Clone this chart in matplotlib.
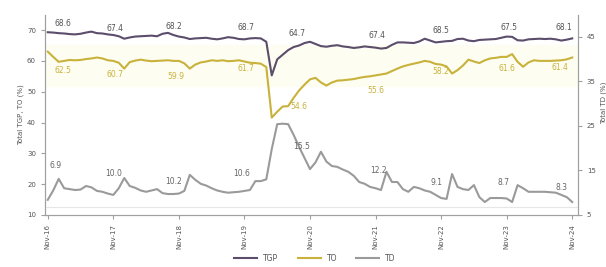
import numpy as np
import matplotlib.pyplot as plt

# monthly series, Nov-16 .. Nov-24
tgp = [69.3, 69.2, 69.0, 68.9, 68.7, 68.6, 68.8, 69.2, 69.5, 69.0, 68.9, 68.6,
       68.4, 68.0, 67.2, 67.6, 67.9, 68.0, 68.1, 68.2, 68.0, 68.8, 69.1, 68.4,
       67.9, 67.6, 67.1, 67.3, 67.4, 67.5, 67.2, 67.0, 67.3, 67.7, 67.5, 67.1,
       67.0, 67.3, 67.4, 67.3, 66.2, 55.3, 60.5, 62.0, 63.5, 64.5, 65.0, 65.8,
       66.2, 65.5, 64.8, 64.6, 64.9, 65.1, 64.7, 64.5, 64.2, 64.4, 64.7, 64.5,
       64.3, 64.0, 64.2, 65.2, 66.0, 66.0, 65.9, 65.8, 66.3, 67.2, 66.6, 66.0,
       66.2, 66.4, 66.5, 67.1, 67.2, 66.6, 66.4, 66.8, 66.9, 67.0, 67.1, 67.5,
       67.9, 67.8, 66.7, 66.6, 67.0, 67.1, 67.2, 67.1, 67.2, 67.0, 66.6, 66.9,
       67.3]
to = [63.0, 61.3, 59.7, 60.0, 60.3, 60.2, 60.3, 60.6, 60.8, 61.1, 60.8, 60.2,
      60.0, 59.4, 57.5, 59.6, 60.1, 60.4, 60.1, 59.9, 60.0, 60.1, 60.2, 60.0,
      60.0, 59.2, 57.5, 58.8, 59.5, 59.8, 60.2, 60.0, 60.2, 59.9, 60.0, 60.2,
      59.8, 59.4, 59.3, 59.1, 58.0, 41.6, 43.5, 45.2, 45.3, 48.0, 50.4, 52.3,
      54.0, 54.5, 53.0, 52.0, 53.0, 53.6, 53.7, 53.9, 54.1, 54.5, 54.8, 55.0,
      55.3, 55.6, 55.9, 56.7, 57.5, 58.2, 58.7, 59.1, 59.5, 60.0, 59.7, 59.0,
      58.8, 58.2, 55.9, 57.0, 58.5, 60.4, 59.8, 59.3, 60.2, 60.8, 61.0, 61.3,
      61.3, 62.2, 59.7, 58.1, 59.5, 60.2, 60.0, 60.0, 60.0, 60.1, 60.2, 60.5,
      61.1]
td = [8.4, 10.5, 13.1, 11.0, 10.8, 10.6, 10.7, 11.5, 11.2, 10.4, 10.2, 9.8,
      9.5, 11.0, 13.3, 11.5, 11.1, 10.5, 10.2, 10.5, 10.8, 9.9, 9.7, 9.7,
      9.8, 10.4, 14.0, 12.9, 12.0, 11.6, 11.0, 10.5, 10.2, 10.0, 10.1, 10.2,
      10.4, 10.6, 12.6, 12.6, 13.0, 19.8, 25.4, 25.5, 25.4, 23.0, 20.3, 17.8,
      15.3, 16.8, 19.2, 17.0, 16.0, 15.8, 15.2, 14.7, 13.8, 12.4, 12.0, 11.3,
      11.0, 10.6, 14.7, 12.4, 12.4, 10.8, 10.2, 11.3, 11.0, 10.5, 10.2, 9.5,
      8.8, 8.6, 14.2, 11.3, 10.8, 10.6, 11.7, 9.0, 7.9, 8.8, 8.8, 8.8,
      8.7, 7.9, 11.7, 11.0, 10.2, 10.2, 10.2, 10.2, 10.1, 10.0, 9.5, 9.0,
      7.9]
ticklabels = ["Nov-16", "Nov-17", "Nov-18", "Nov-19", "Nov-20",
              "Nov-21", "Nov-22", "Nov-23", "Nov-24"]

# yearly labels (index position, value)
tgp_lab_x = [2.7, 12.3, 23.0, 36.2, 45.6, 60.2, 72.0, 84.5, 94.4]
tgp_lab = ["68.6", "67.4", "68.2", "68.7", "64.7", "67.4", "68.5", "67.5", "68.1"]
to_lab_x = [2.7, 12.3, 23.5, 36.2, 46.0, 60.0, 72.0, 84.0, 93.8]
to_lab = ["62.5", "60.7", "59.9", "61.7", "54.6", "55.6", "58.2", "61.6", "61.4"]
td_lab_x = [1.5, 12.0, 23.0, 35.5, 46.5, 60.5, 71.2, 83.5, 94.0]
td_lab = ["6.9", "10.0", "10.2", "10.6", "15.5", "12.2", "9.1", "8.7", "8.3"]
tgp_lab_y = [72.0, 70.6, 71.3, 71.0, 68.8, 68.2, 69.8, 71.0, 71.0]
to_lab_y = [57.0, 55.5, 54.8, 57.5, 45.2, 50.5, 56.5, 57.4, 58.0]
td_lab_y = [16.2, 14.3, 12.6, 14.3, 20.4, 15.0, 12.2, 12.4, 11.2]

c_tgp = "#5b4d6b"
c_to = "#c8b23c"
c_td = "#9a9a9a"

x = np.arange(len(tgp))

fig = plt.figure(figsize=(6.06, 2.67), dpi=100)
ax = fig.add_axes([0.0743, 0.195, 0.879, 0.75])
ax2 = ax.twinx()

ax.axhspan(52, 65, color="#fefdf1", zorder=0)
l1, = ax.plot(x, tgp, color=c_tgp, lw=1.5, label="TGP")
l2, = ax.plot(x, to, color=c_to, lw=1.5, label="TO")
ax2.axhline(6.8, color="#e6e6e6", lw=0.8)
l3, = ax2.plot(x, td, color=c_td, lw=1.5, label="TD")

for xi, yi, s in zip(tgp_lab_x, tgp_lab_y, tgp_lab):
    ax.text(xi, yi, s, fontsize=5.5, color="#555555", ha="center", va="center")
for xi, yi, s in zip(to_lab_x, to_lab_y, to_lab):
    ax.text(xi, yi, s, fontsize=5.5, color=c_to, ha="center", va="center")
for xi, yi, s in zip(td_lab_x, td_lab_y, td_lab):
    ax2.text(xi, yi, s, fontsize=5.5, color="#666666", ha="center", va="center")

ax.set_xlim(-0.5, 97)
ax.set_ylim(10, 75)
ax2.set_ylim(5, 50)
ax.set_yticks([10, 20, 30, 40, 50, 60, 70])
ax2.set_yticks([5, 15, 25, 35, 45])
ax.set_xticks(np.arange(0, 97, 12))
ax.set_xticklabels(ticklabels, rotation=90)

for a in (ax, ax2):
    a.spines["top"].set_visible(False)
    for s in ("left", "right", "bottom"):
        a.spines[s].set_color("#a0a0a0")
    a.tick_params(labelsize=5, colors="#555555", length=3, color="#a0a0a0")

ax.set_ylabel("Total TGP, TO (%)", fontsize=5, color="#555555", labelpad=2)
ax2.set_ylabel("Total TD (%)", fontsize=5, color="#555555")
ax2.yaxis.set_label_coords(1.043, 0.56)

fig.legend([l1, l2, l3], ["TGP", "TO", "TD"], loc="lower center",
           bbox_to_anchor=(0.52, -0.01), ncol=3, frameon=False, fontsize=5.5,
           handlelength=3, columnspacing=2.5, labelcolor="#555555")

fig.savefig("out.png", dpi=100)
